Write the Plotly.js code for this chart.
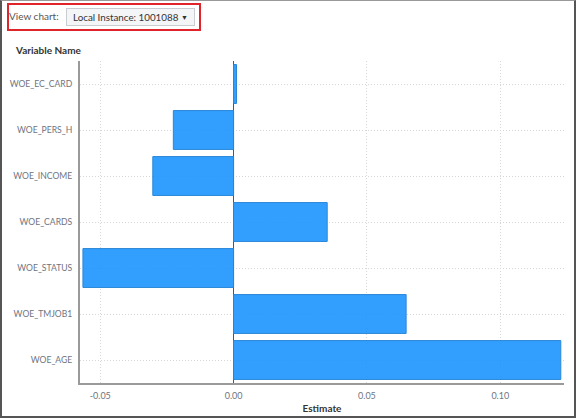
<!DOCTYPE html>
<html>
<head>
<meta charset="utf-8">
<script src="https://cdn.plot.ly/plotly-3.0.1.min.js"></script>
<style>
  html, body { margin: 0; padding: 0; background: #fff; }
  #frame { position: absolute; left: 0; top: 0; width: 576px; height: 418px; box-sizing: border-box;
           border-left: 2px solid #555; border-right: 2px solid #555; border-bottom: 2px solid #555; border-top: 1px solid #999; }
  #chart { position: absolute; left: 0; top: 0; width: 576px; height: 418px; }
  #redbox { position: absolute; left: 7px; top: 3px; width: 190px; height: 24px; border: 2px solid #e0242b; }
  #lbl { position: absolute; left: 9px; top: 10px; font: 10px Lato, "Open Sans", sans-serif; color: #555; }
  #dd { position: absolute; left: 66px; top: 8px; width: 129px; height: 18px; box-sizing: border-box;
        border: 1px solid #c9ccd1; background: #f4f5f7; font: 9.8px Lato, "Open Sans", sans-serif; color: #333;
        line-height: 16px; padding-left: 6px; white-space: nowrap; }
  #dd span { position: absolute; right: 6px; top: 0; font-size: 7px; }
</style>
</head>
<body>
<div id="chart"></div>
<div id="frame"></div>
<div id="redbox"></div>
<div id="lbl">View chart:</div>
<div id="dd">Local Instance: 1001088<span>▼</span></div>
<script>
const variables = ["WOE_EC_CARD", "WOE_PERS_H", "WOE_INCOME", "WOE_CARDS", "WOE_STATUS", "WOE_TMJOB1", "WOE_AGE"];
const estimates = [0.0011, -0.0226, -0.0303, 0.0351, -0.0565, 0.0647, 0.1227];
const xTickVals = [-0.05, 0, 0.05, 0.1];
const xTickText = ["-0.05", "0.00", "0.05", "0.10"];

const trace = {
  type: "bar",
  orientation: "h",
  x: estimates,
  y: variables,
  marker: { color: "rgba(28,149,255,0.9)", line: { color: "#2a86d8", width: 1 } },
  hoverinfo: "x+y"
};

const layout = {
  width: 576, height: 418,
  margin: { l: 80, r: 12, t: 61, b: 35 },
  paper_bgcolor: "rgba(0,0,0,0)",
  plot_bgcolor: "#fff",
  showlegend: false,
  bargap: 0.155,
  font: { family: "Lato, 'Open Sans', sans-serif", size: 8.6, color: "#6f7480" },
  xaxis: {
    range: [-0.0576, 0.1239],
    tickvals: xTickVals, ticktext: xTickText,
    tickfont: { size: 9 },
    showgrid: true, gridcolor: "#d6d6d6", griddash: "1px,2px", gridwidth: 1,
    zeroline: true, zerolinecolor: "#555", zerolinewidth: 1,
    showline: true, linecolor: "#9a9a9a", linewidth: 2,
    ticks: "", ticklabelstandoff: 3,
    title: { text: "<b>Estimate</b>", font: { size: 10, color: "#333" }, standoff: 5 }
  },
  yaxis: {
    type: "category",
    autorange: "reversed",
    showgrid: true, gridcolor: "#d6d6d6", griddash: "1px,2px", gridwidth: 1,
    showline: true, linecolor: "#9a9a9a", linewidth: 2,
    ticks: "", ticklabelstandoff: 4
  },
  annotations: [{
    text: "<b>Variable Name</b>", xref: "paper", yref: "paper",
    x: (13 - 80) / 484, y: 1 + (61 - 50) / 322, xanchor: "left", yanchor: "middle",
    showarrow: false, font: { size: 10, color: "#333" }
  }]
};

Plotly.newPlot("chart", [trace], layout, { displayModeBar: false, staticPlot: true });
</script>
</body>
</html>
